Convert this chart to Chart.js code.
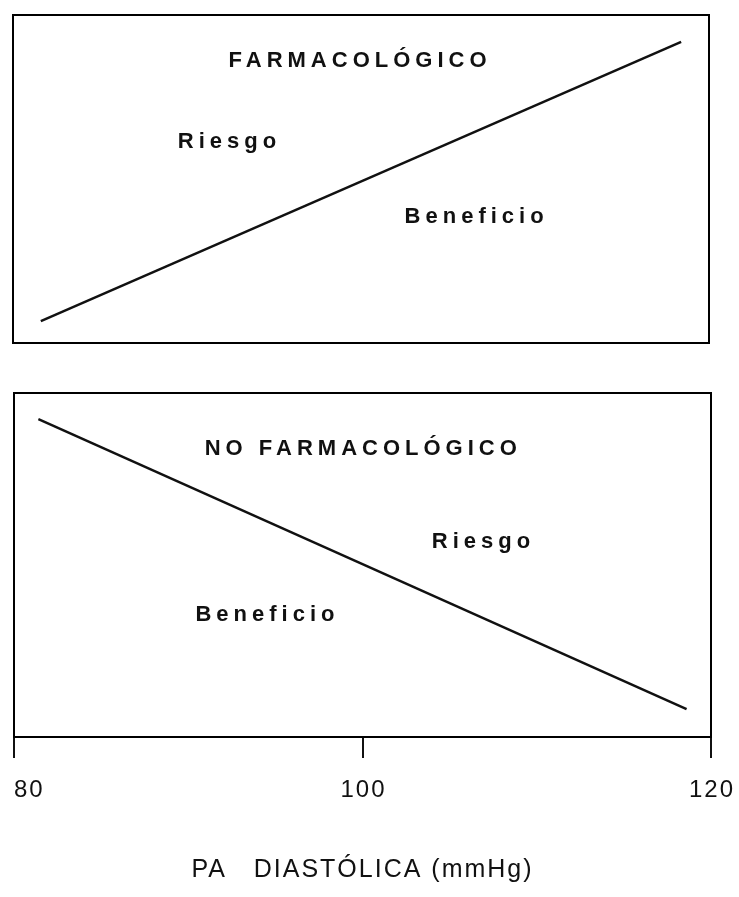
<!DOCTYPE html>
<html>
<head>
<meta charset="utf-8">
<script src="https://cdn.jsdelivr.net/npm/chart.js@4.4.1/dist/chart.umd.min.js"></script>
<style>
  html, body { margin: 0; padding: 0; background: #fff; }
  #wrap { position: relative; width: 739px; height: 897px; background: #fff; }
  #c1wrap { position: absolute; left: 0; top: 0; width: 739px; height: 360px; }
  #c2wrap { position: absolute; left: 0; top: 370px; width: 739px; height: 527px; }
</style>
</head>
<body>
<div id="wrap">
  <div id="c1wrap"><canvas id="top" width="739" height="360"></canvas></div>
  <div id="c2wrap"><canvas id="bot" width="739" height="527"></canvas></div>
</div>
<script>
// ---- Data ----
const xTickValues = [80, 100, 120];
const xTickLabels = ['80', '100', '120'];
const xAxisTitle = 'PA   DIASTÓLICA (mmHg)';

// Top panel: pharmacological treatment line (x = PA diastólica, y = relative scale 0-100)
const topLineX = [81.6, 118.4];
const topLineY = [6.7, 91.8];
const topLabels = ['FARMACOLÓGICO', 'Riesgo', 'Beneficio'];
const topLabelX = [99.8, 92.3, 106.5];
const topLabelY = [84.1, 59.5, 36.6];

// Bottom panel: non-pharmacological treatment line
const botLineX = [81.4, 118.6];
const botLineY = [92.4, 8.1];
const botLabels = ['NO FARMACOLÓGICO', 'Riesgo', 'Beneficio'];
const botLabelX = [99.9, 106.8, 94.4];
const botLabelY = [82.0, 54.9, 33.7];

const FONT = '"Liberation Sans", Arial, Helvetica, sans-serif';

function pts(xs, ys) { return xs.map((x, i) => ({ x: x, y: ys[i] })); }

const panelPlugin = {
  id: 'panel',
  beforeDraw(chart) {
    const ctx = chart.ctx;
    ctx.save();
    ctx.fillStyle = '#fff';
    ctx.fillRect(0, 0, chart.width, chart.height);
    ctx.restore();
    ctx.letterSpacing = '2px';
  },
  afterDraw(chart, args, opts) {
    const ctx = chart.ctx;
    const a = chart.chartArea;
    const xs = chart.scales.x, ys = chart.scales.y;
    ctx.save();
    ctx.strokeStyle = '#000';
    ctx.lineWidth = 2;
    ctx.strokeRect(a.left, a.top, a.right - a.left, a.bottom - a.top);
    ctx.fillStyle = '#111';
    ctx.font = 'bold 22px ' + FONT;
    ctx.letterSpacing = '5px';
    ctx.textAlign = 'center';
    ctx.textBaseline = 'alphabetic';
    opts.labels.forEach((t, i) => {
      ctx.fillText(t, xs.getPixelForValue(opts.lx[i]) + 2.5, ys.getPixelForValue(opts.ly[i]));
    });
    if (opts.showAxis) {
      ctx.font = '24px ' + FONT;
      ctx.letterSpacing = '2px';
      xTickValues.forEach((v, i) => {
        ctx.textAlign = i === 0 ? 'left' : 'center';
        const px = xs.getPixelForValue(v) + (i === 0 ? 0 : 1);
        ctx.fillText(xTickLabels[i], px, xs.top + 60);
      });
    }
    ctx.restore();
    ctx.letterSpacing = '0px';
  }
};

function makeChart(id, xsArr, ysArr, labels, lx, ly, showAxis, padding) {
  return new Chart(document.getElementById(id), {
    type: 'scatter',
    data: {
      datasets: [{
        data: pts(xsArr, ysArr),
        showLine: true,
        borderColor: '#111',
        borderWidth: 2.5,
        pointRadius: 0,
        fill: false
      }]
    },
    options: {
      responsive: false,
      animation: false,
      devicePixelRatio: 1,
      layout: { padding: padding },
      plugins: {
        legend: { display: false },
        tooltip: { enabled: false },
        panel: { labels: labels, lx: lx, ly: ly, showAxis: showAxis }
      },
      scales: {
        x: {
          type: 'linear',
          min: 80, max: 120,
          display: showAxis,
          afterBuildTicks(scale) { scale.ticks = xTickValues.map(v => ({ value: v })); },
          afterFit(scale) {
            if (showAxis) scale.height = 160;
            scale.paddingLeft = 0; scale.paddingRight = 0;
          },
          grid: {
            drawOnChartArea: false,
            drawTicks: true,
            tickLength: 21,
            color: '#111',
            lineWidth: 2
          },
          border: { display: false },
          ticks: { display: false },
          title: {
            display: showAxis,
            text: xAxisTitle,
            color: '#111',
            font: { family: FONT, size: 25 },
            padding: { top: 0, bottom: 12 }
          }
        },
        y: { min: 0, max: 100, display: false }
      }
    },
    plugins: [panelPlugin]
  });
}

makeChart('top', topLineX, topLineY, topLabels, topLabelX, topLabelY, false,
  { left: 13, right: 30, top: 15, bottom: 17 });
makeChart('bot', botLineX, botLineY, botLabels, botLabelX, botLabelY, true,
  { left: 14, right: 28, top: 23, bottom: 0 });
</script>
</body>
</html>
